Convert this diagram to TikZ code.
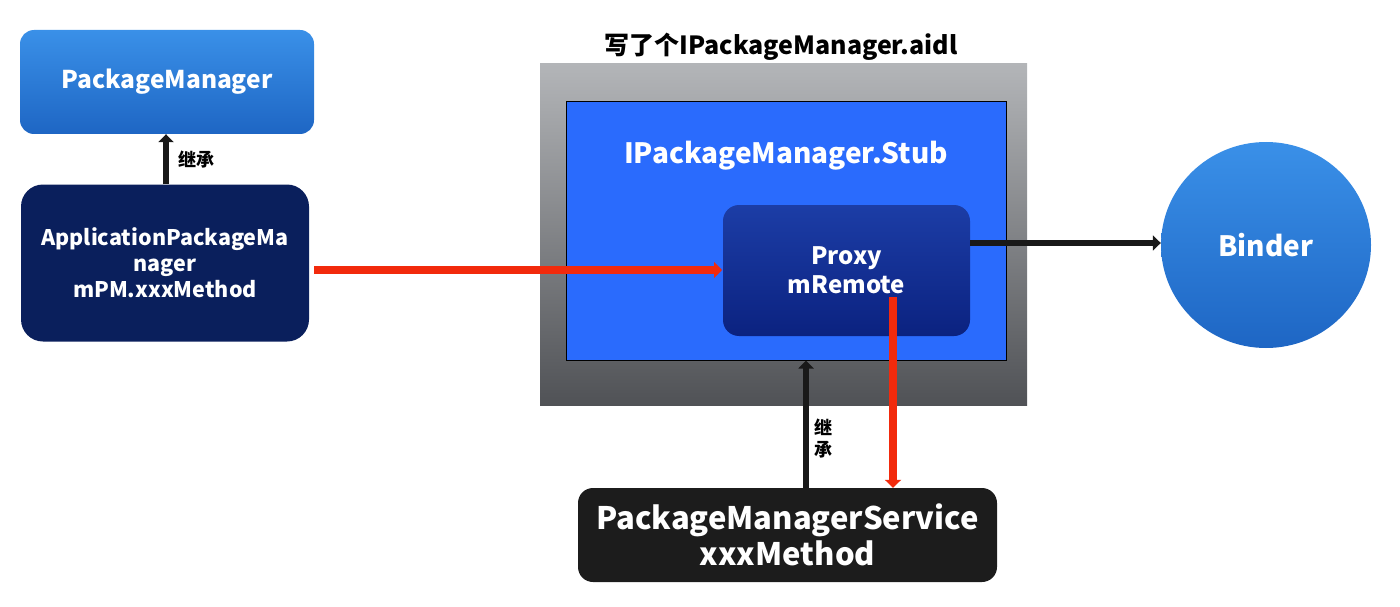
\documentclass[tikz,border=0pt]{standalone}
\usepackage{fontspec}
\setmainfont{Noto Sans CJK SC}
\usetikzlibrary{arrows.meta,shapes.geometric}
\definecolor{pmtop}{HTML}{3A90E8}
\definecolor{pmbot}{HTML}{1E66C4}
\definecolor{navy}{HTML}{0A1F5C}
\definecolor{grtop}{HTML}{B3B5B8}
\definecolor{grbot}{HTML}{505256}
\definecolor{stubblue}{HTML}{2A6BFD}
\definecolor{pxtop}{HTML}{1C3DA6}
\definecolor{pxbot}{HTML}{0B2280}
\definecolor{redarr}{HTML}{F22A0C}
\definecolor{pmsfill}{HTML}{1C1C1C}
\tikzset{
  boxtext/.style={text=white,font=\bfseries,align=center,inner sep=0pt},
  blackarr/.style={draw=black!90,line width=6.5pt,-{Triangle[length=8pt,width=15pt]}},
  redarrow/.style={draw=redarr,line width=7.5pt,-{Triangle[length=8pt,width=16pt]}},
  inh/.style={font=\bfseries\fontsize{18}{21}\selectfont,inner sep=0pt}
}
\begin{document}
\begin{tikzpicture}[x=1pt,y=-1pt]
\useasboundingbox (0,0) rectangle (1400,607);
% PackageManager
\node[boxtext,rounded corners=14pt,top color=pmtop,bottom color=pmbot,minimum width=294pt,minimum height=104pt,font=\bfseries\fontsize{24.5}{30}\selectfont] (pm) at (167,82) {PackageManager};
% ApplicationPackageManager
\node[boxtext,rounded corners=22pt,fill=navy,minimum width=288pt,minimum height=157pt,font=\bfseries\fontsize{21.5}{26}\selectfont] (apm) at (165,263) {ApplicationPackageMa\\nager\\mPM.xxxMethod};
% title
\node[font=\bfseries\fontsize{25}{30}\selectfont,inner sep=0pt] (title) at (781,47) {写了个IPackageManager.aidl};
% gray box
\node[top color=grtop,bottom color=grbot,minimum width=487pt,minimum height=341pt,inner sep=0pt] (gray) at (783.5,234.5) {};
% stub
\node[fill=stubblue,draw=black,line width=1pt,minimum width=440pt,minimum height=258pt,inner sep=0pt] (stub) at (786,231) {};
\node[boxtext,font=\bfseries\fontsize{28}{32}\selectfont] (stubtxt) at (786,156) {IPackageManager.Stub};
% proxy
\node[boxtext,rounded corners=16pt,top color=pxtop,bottom color=pxbot,minimum width=247pt,minimum height=131pt,font=\bfseries\fontsize{24}{29}\selectfont] (proxy) at (846.5,270.5) {Proxy\\mRemote};
% binder
\node[ellipse,top color=pmtop,bottom color=pmbot,minimum width=210pt,minimum height=206pt,inner sep=0pt,text=white,font=\bfseries\fontsize{28}{32}\selectfont] (binder) at (1266,245) {Binder};
% PMS
\node[boxtext,rounded corners=15pt,fill=pmsfill,minimum width=419pt,minimum height=94pt,font=\bfseries\fontsize{31}{36}\selectfont] (pms) at (787.5,535) {PackageManagerService\\xxxMethod};
% connectors
\coordinate (apmr) at (314,270);
\coordinate (pxl) at (722,270);
\draw[redarrow] (apmr) -- (pxl);
\draw[blackarr] (apm.north -| 166,0) -- (pm.south -| 166,0);
\node[inh] (inh1) at (196,160) {继承};
\draw[blackarr] (proxy.east |- 0,243) -- (binder.west |- 0,243);
\draw[blackarr] (pms.north -| 806,0) -- (stub.south -| 806,0);
\node[inh,align=center,font=\bfseries\fontsize{18}{22}\selectfont] (inh2) at (823,439) {继\\承};
\coordinate (mr) at (893,297);
\draw[redarrow] (mr) -- (pms.north -| 893,0);
\end{tikzpicture}
\end{document}
